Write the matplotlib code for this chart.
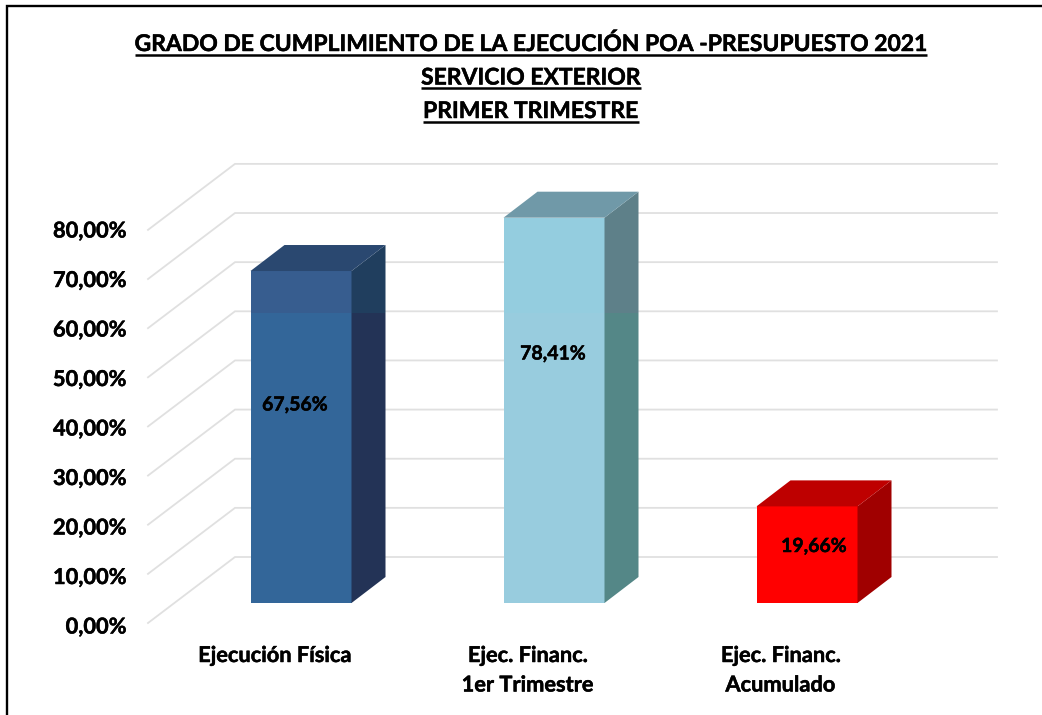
import matplotlib
matplotlib.use("Agg")
import matplotlib.pyplot as plt
import matplotlib.patheffects as pe
from matplotlib.lines import Line2D
from matplotlib.patches import Polygon

plt.rcParams['font.family'] = ['Lato', 'DejaVu Sans']

title_lines = ["GRADO DE CUMPLIMIENTO DE LA EJECUCIÓN POA -PRESUPUESTO 2021",
               "SERVICIO EXTERIOR", "PRIMER TRIMESTRE"]
categories = ["Ejecución Física", "Ejec. Financ.\n1er Trimestre", "Ejec. Financ.\nAcumulado"]
values = [67.56, 78.41, 19.66]
value_labels = ["67,56%", "78,41%", "19,66%"]
axis_ticks = [0, 10, 20, 30, 40, 50, 60, 70, 80]
axis_labels = ["0,00%", "10,00%", "20,00%", "30,00%", "40,00%", "50,00%", "60,00%", "70,00%", "80,00%"]

W, H = 1042, 715
X0, XS = 301.0, 253.0      # px of category 0, px per category
Y0, YS = 603.0, 4.914      # px of value 0 on the bar front, px per unit
BAR_W = 101 / XS
DX, DY = 34 / XS, 26 / YS  # bar depth in data units
FADE = (603 - 313) / YS    # value where the picture's lighter band starts
HEAVY = [pe.withStroke(linewidth=0.35, foreground="black")]

fig = plt.figure(figsize=(W / 100, H / 100), dpi=100)
ax = fig.add_axes([0, 0, 1, 1])
ax.set_xlim(-X0 / XS, (W - X0) / XS)
ax.set_ylim((Y0 - H) / YS, Y0 / YS)
ax.axis("off")

# Gridlines: on the back wall and down the left side wall
back_left, back_right = (235 - X0) / XS, (997 - X0) / XS
back_dy = (Y0 - 557) / YS
side_dx, side_dy = -87 / XS, -66 / YS
for t in axis_ticks:
    yb = t + back_dy
    ax.plot([back_left + side_dx, back_left, back_right],
            [yb + side_dy, yb, yb], color="#E0E0E0", lw=1.3, zorder=1,
            solid_joinstyle="miter")

styles = [
    dict(front="#336699", front_up="#375D8F", side="#233356", side_up="#203E5E", top="#2A4870"),
    dict(front="#98CCDE", front_up="#94CDDF", side="#548787", side_up="#5E8089", top="#7099A8"),
    dict(front="#FF0000", front_up="#FF0000", side="#A00000", side_up="#A00000", top="#BE0000"),
]

for i, (v, st) in enumerate(zip(values, styles)):
    l, r = i - BAR_W / 2, i + BAR_W / 2
    if v > FADE:
        ax.add_patch(Polygon([(l, 0), (r, 0), (r, FADE), (l, FADE)], fc=st["front"], ec="none", zorder=3))
        ax.add_patch(Polygon([(r, 0), (r + DX, DY), (r + DX, FADE), (r, FADE)], fc=st["side"], ec="none", zorder=3))
        ax.add_patch(Polygon([(l, FADE), (r, FADE), (r, v), (l, v)], fc=st["front_up"], ec="none", zorder=3))
        ax.add_patch(Polygon([(r, FADE), (r + DX, FADE), (r + DX, v + DY), (r, v)], fc=st["side_up"], ec="none", zorder=3))
    else:
        ax.add_patch(Polygon([(l, 0), (r, 0), (r, v), (l, v)], fc=st["front"], ec="none", zorder=3))
        ax.add_patch(Polygon([(r, 0), (r + DX, DY), (r + DX, v + DY), (r, v)], fc=st["side"], ec="none", zorder=3))
    ax.add_patch(Polygon([(l, v), (r, v), (r + DX, v + DY), (l + DX, v + DY)], fc=st["top"], ec="none", zorder=3))

label_px = [(295, 405), (553, 354), (814, 546.5)]
for (px, py), s in zip(label_px, value_labels):
    ax.text((px - X0) / XS, (Y0 - py) / YS, s, ha="center", va="center",
            fontsize=14, fontweight="bold", color="black", zorder=5, path_effects=HEAVY)

# Axis labels, in pixel offsets from the value scale
for t, s in zip(axis_ticks, axis_labels):
    ax.text((126 - X0) / XS, (Y0 - (627 - 4.95 * t)) / YS, s, ha="right", va="center",
            fontsize=15.7, fontweight="bold", color="black", path_effects=HEAVY)

for i, c in enumerate(categories):
    for j, s in enumerate(c.split("\n")):
        ax.text(i - 26.5 / XS, (Y0 - (655.5 + 29.5 * j)) / YS, s, ha="center", va="center",
                fontsize=15.7, fontweight="bold", color="black", path_effects=HEAVY)

# Title with underlines
fig.canvas.draw()
r = fig.canvas.get_renderer()
for s, py in zip(title_lines, [51, 84.5, 118]):
    t = fig.text(531 / W, 1 - py / H, s, ha="center", va="baseline",
                 fontsize=16.5, fontweight="bold", color="black", path_effects=HEAVY)
    bb = t.get_window_extent(r)
    yy = 1 - (py + 3.5) / H
    fig.add_artist(Line2D([bb.x0 / W, bb.x1 / W], [yy, yy], color="black", lw=1.8,
                          solid_capstyle="butt"))

# Outer frame
fig.add_artist(Line2D([7 / W, 7 / W, 1], [0, 1 - 6 / H, 1 - 6 / H], color="black", lw=1.7,
                      solid_joinstyle="miter"))

fig.savefig("out.png", dpi=100)
